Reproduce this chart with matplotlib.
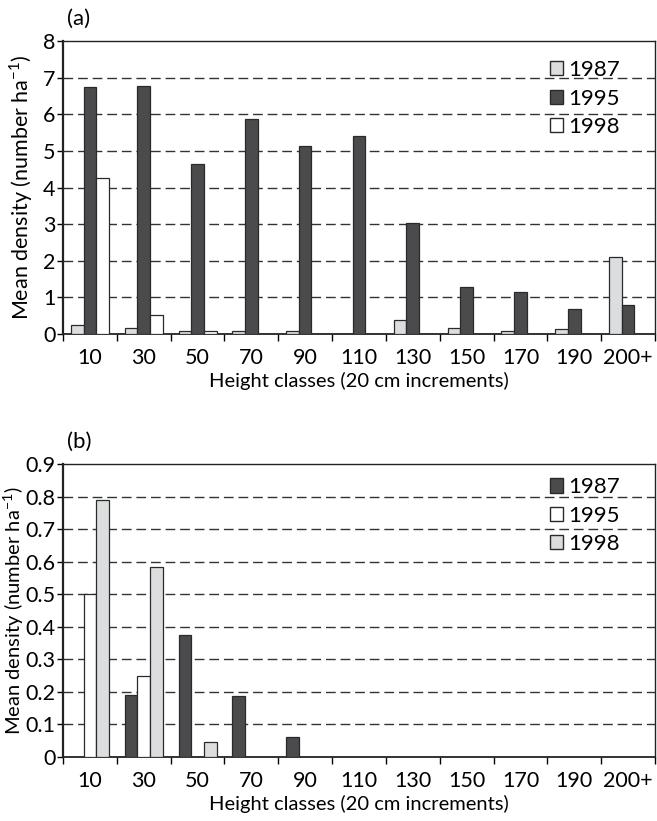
import numpy as np
import matplotlib
matplotlib.use("Agg")
import matplotlib.pyplot as plt

plt.rcParams['font.family'] = ['Lato', 'DejaVu Sans']

# height classes (20 cm increments)
classes = ['10', '30', '50', '70', '90', '110', '130', '150', '170', '190', '200+']

# panel (a)
a_1987 = [0.25, 0.15, 0.08, 0.08, 0.08, 0.0, 0.37, 0.15, 0.08, 0.13, 2.1]
a_1995 = [6.75, 6.77, 4.65, 5.88, 5.13, 5.42, 3.02, 1.27, 1.15, 0.67, 0.8]
a_1998 = [4.25, 0.52, 0.08, 0.0, 0.0, 0.0, 0.0, 0.0, 0.0, 0.0, 0.0]

# panel (b)
b_1987 = [0.0, 0.19, 0.375, 0.1875, 0.0625, 0, 0, 0, 0, 0, 0]
b_1995 = [0.5, 0.25, 0.0, 0, 0, 0, 0, 0, 0, 0, 0]
b_1998 = [0.79, 0.585, 0.045, 0, 0, 0, 0, 0, 0, 0, 0]

years = ['1987', '1995', '1998']

DARK = '#4b4b4d'
LIGHT = '#dcdddf'
WHITE = '#ffffff'
EDGE = '#2a2a2a'


def draw_panel(ax, series, colors, ymax, ystep, yfmt, letter, leg_y, ylab_x, ylab_size):
    x = np.arange(len(classes))
    w = 0.235
    for i, (vals, col, yr) in enumerate(zip(series, colors, years)):
        ax.bar(x + (i - 1) * w, vals, w, color=col, edgecolor=EDGE,
               linewidth=0.9, label=yr, zorder=3)

    ax.set_xlim(-0.5, len(classes) - 0.5)
    ax.set_ylim(0, ymax)
    yt = np.arange(0, ymax + ystep / 2, ystep)
    ax.set_yticks(yt)
    ax.set_yticklabels([yfmt(v) for v in yt])
    for v in yt[1:-1]:
        ax.axhline(v, color='#333333', lw=1.0, ls=(0, (7, 3.5)), zorder=1)

    # category labels centered, tick marks at class boundaries
    ax.set_xticks(x)
    ax.set_xticklabels(classes)
    ax.tick_params(axis='x', which='major', length=0, pad=10, labelsize=15.5)
    ax.set_xticks(np.arange(-0.5, len(classes)), minor=True)
    ax.tick_params(axis='x', which='minor', length=5, width=1.0, direction='out')
    ax.tick_params(axis='y', length=4, width=1.0, pad=1.5, labelsize=15.5)

    for s in ax.spines.values():
        s.set_linewidth(1.0)
        s.set_color('#222222')
    ax.spines['left'].set_linewidth(1.6)
    ax.spines['bottom'].set_linewidth(1.3)

    ax.set_xlabel('Height classes (20 cm increments)', fontsize=14.5)
    ax.xaxis.set_label_coords(0.5, -0.13)
    ax.set_ylabel('Mean density (number ha$^{\\mathregular{-1}}$)', fontsize=ylab_size)
    ax.yaxis.set_label_coords(ylab_x, 0.5)
    ax.text(0.006, 1.075, letter, transform=ax.transAxes, fontsize=16,
            ha='left', va='center')

    leg = ax.legend(loc='upper left', bbox_to_anchor=(0.822, leg_y), frameon=False,
                    fontsize=16, handlelength=0.62, handleheight=0.62,
                    handletextpad=0.22, labelspacing=0.38, borderaxespad=0,
                    borderpad=0)
    for h in leg.legend_handles:
        h.set_edgecolor(EDGE)
        h.set_linewidth(1.0)


fig = plt.figure(figsize=(6.57, 8.21), dpi=100)
ax_a = fig.add_axes([0.0959, 0.5932, 0.901, 0.3568])
ax_b = fig.add_axes([0.0959, 0.078, 0.901, 0.3568])

draw_panel(ax_a, [a_1987, a_1995, a_1998], [LIGHT, DARK, WHITE], 8, 1,
           lambda v: '%d' % v, '(a)', 0.935, -0.047, 15.5)
draw_panel(ax_b, [b_1987, b_1995, b_1998], [DARK, WHITE, LIGHT], 0.9, 0.1,
           lambda v: '0' if v == 0 else '%.1f' % v, '(b)', 0.955, -0.062, 14.5)

fig.savefig('out.png', dpi=100)
